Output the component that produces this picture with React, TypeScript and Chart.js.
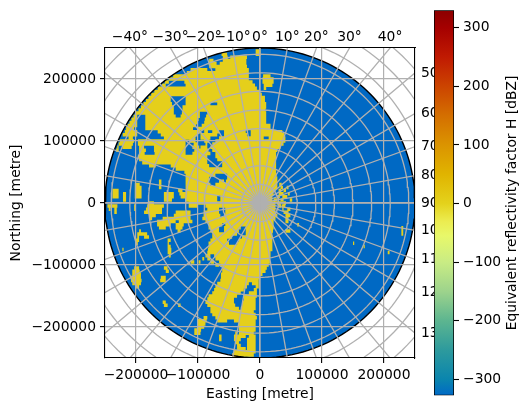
import React, { useEffect, useRef } from "react";
import { Chart, registerables } from "chart.js";

Chart.register(...registerables);

const FONT = "'DejaVu Sans'";
const FS = 13.89;
const GRID = "#b0b0b0";

const xyTicks = [-200000, -100000, 0, 100000, 200000];
const topAzimuths = [-40, -30, -20, -10, 0, 10, 20, 30, 40];
const rightAzimuths = [50, 60, 70, 80, 90, 100, 110, 120, 130];
const rayAzimuths = [0, 10, 20, 30, 40, 50, 60, 70, 80, 90, 100, 110, 120, 130, 140, 150, 160, 170];
const ringRadiiKm = [30, 60, 90, 120, 150, 180, 210, 240, 270, 300, 330, 360];
const rangeKm = 250;
const colorbarTicks = [-300, -200, -100, 0, 100, 200, 300];
const colorbarMin = -327.3;
const colorbarMax = 329.7;
const colorbarStops: [number, string][] = [
  [329.7, "#8b0000"], [300, "#a50000"], [250, "#c01a02"], [200, "#cc4400"], [150, "#d46f00"],
  [100, "#db9400"], [50, "#e0b400"], [0, "#e4d21c"], [-30, "#ecec50"], [-55, "#e8f86a"],
  [-100, "#c9ec84"], [-150, "#9dd38c"], [-200, "#5cb590"], [-250, "#2d9a9d"], [-300, "#0a85ae"],
  [-327.3, "#0069c6"],
];

// Echo runs per 5 km row, in km: [y, x0, x1, x0, x1, ...]
const echoRows: number[][] = [
  [245, -7, 1],
  [240, -62, -53, -7, 1],
  [235, -60, -52, -48, -21],
  [230, -82, -75, -60, -22],
  [225, -83, -70, -65, -22],
  [220, -82, -21],
  [215, -112, -85, -72, -18],
  [210, -118, -18],
  [205, -150, -18, 5, 17],
  [200, -152, -18, 4, 22],
  [195, -158, -147, -122, -12, 4, 22],
  [190, -158, -152, -120, -8, 6, 20],
  [185, -165, -5, 6, 10],
  [180, -172, 0],
  [175, -176, 3],
  [170, -180, -144, -120, 8],
  [165, -184, -144, -120, 8],
  [160, -188, -142, -120, -80, -69, 10],
  [155, -192, -139, -125, 10],
  [150, -196, -139, -125, 9],
  [145, -200, -139, -126, -97, -85, 10],
  [140, -204, -198, -185, -136, -128, -97, -87, 10],
  [135, -208, -198, -185, -99, -89, 10],
  [130, -212, -198, -185, -100, -90, 10],
  [125, -215, -198, -185, -103, -94, 17],
  [120, -216, -203, -185, -108, -100, 17],
  [115, -218, -198, -165, -96, -90, -84, -77, -66, -58, -23, -15, 36],
  [110, -222, -198, -160, -101, -96, -69, -58, -21, -15, 39],
  [105, -212, -205, -155, -104, -96, -80, -66, 6, 14, 41],
  [100, -227, -203, -197, -120, -114, -104, -90, -82, -72, 41],
  [95, -228, -205, -197, -120, -107, -101, -88, -85, -77, 38],
  [90, -232, -228, -222, -207, -195, -187, -171, -120, -109, -98, -96, -85, -80, 33],
  [85, -232, -228, -195, -184, -171, -120, -106, -83, -77, 28],
  [80, -195, -186, -170, -120, -109, -80, -72, 26],
  [75, -197, -85, -72, 26],
  [70, -195, -85, -69, 26],
  [65, -190, -85, -61, 26],
  [60, -179, -168, -144, -82, -61, 26],
  [55, -136, 26],
  [50, -122, 26],
  [45, -120, -72, -53, 27],
  [40, -120, -82, -53, 28],
  [35, -163, -159, -120, -82, -66, -58, -55, 28],
  [30, -202, -194, -163, -159, -120, -80, -72, 28, 31, 35],
  [25, -202, -191, -163, -159, -120, 28, 33, 37, 43, 46],
  [20, -238, -228, -202, -191, -132, -125, -120, 25, 30, 34, 38, 42],
  [15, -238, -228, -221, -216, -202, -191, -155, -139, -130, 22, 30, 38, 45, 48],
  [10, -238, -228, -221, -216, -202, -191, -155, -139, -128, -69, -64, 20, 28, 32, 36, 44],
  [5, -221, -216, -155, -142, -120, -69, -64, 20, 22, 28, 33, 38, 48, 52],
  [0, -179, -171, -115, 25, 27, 33, 38, 42],
  [-5, -246, -230, -203, -201, -182, -155, -115, -100, -88, 25, 30, 34, 35, 41],
  [-10, -244, -241, -235, -231, -203, -201, -184, -158, -85, -66, -56, 25, 36, 38, 44, 49],
  [-15, -235, -231, -187, -158, -136, -112, -91, -66, -56, 25, 38, 46],
  [-20, -179, -168, -139, -112, -91, -64, -58, 28, 41, 49],
  [-25, -179, -174, -157, -112, -93, 25, 41, 46],
  [-30, -166, -136, -131, -109, -88, 22, 41, 46],
  [-35, -166, -144, -136, -123, -83, -61, -56, 22, 60, 63],
  [-40, -163, -152, -136, -125, -83, -66, -58, -31, -23, 22, 228, 231],
  [-45, -195, -192, -133, -128, -80, -66, -58, -34, -23, 21, 41, 49, 228, 231],
  [-50, -198, -182, -77, -37, -23, 20, 228, 231],
  [-55, -198, -195, -187, -179, -77, -45, -29, 20],
  [-60, -201, -195, -149, -144, -80, -53, -34, 20],
  [-65, -201, -197, -149, -147, -83, -50, -37, 20, 150, 152],
  [-70, -149, -144, -83, 20, 167, 169],
  [-75, -222, -220, -149, -143, -84, 20],
  [-80, -149, -143, -85, 17, 206, 209],
  [-85, -147, -144, -88, -80, -74, 17],
  [-90, -93, -90, -85, -80, -72, 16],
  [-95, -112, -106, -99, -96, -80, -74, -66, 16],
  [-100, -72, -66, -64, 14],
  [-105, -203, -195, -155, -149, -61, 11],
  [-110, -206, -194, -152, -147, -61, 9],
  [-115, -206, -192, -63, 4],
  [-120, -209, -192, -160, -152, -63, -1],
  [-125, -208, -191, -161, -152, -64, -2],
  [-130, -206, -192, -69, -18, -13, -2],
  [-135, -201, -195, -72, -21, -7, -2],
  [-140, -74, -26, -10, -5],
  [-145, -77, -31, -18, -5],
  [-150, -83, -37, -26, -5],
  [-155, -85, -42, -26, -7],
  [-160, -157, -152, -88, -42, -29, -7],
  [-165, -155, -149, -132, -128, -85, -40, -29, -7],
  [-170, -80, -34, -31, -7],
  [-175, -80, -10],
  [-180, -77, -7],
  [-185, -91, -85, -72, -5],
  [-190, -100, -86, -69, -53, -42, -7],
  [-195, -101, -88, -34, -7],
  [-200, -101, -90, -34, -7],
  [-205, -106, -95, -34, -7],
  [-210, -106, -96, -40, -37, -34, -10],
  [-215, -66, -62, -42, -23, -18, -7],
  [-220, -66, -62, -42, -31, -21, -7],
  [-225, -40, -34, -21, -7],
  [-230, -37, -31, -21, -7],
  [-235, -37, -23, -21, -7],
  [-240, -42, -7],
  [-245, -45, -10],
];

type Pt = { x: number; y: number };
const GAP: Pt = { x: NaN, y: NaN };
const KM = 1000;

function echoPoints(): Pt[] {
  const out: Pt[] = [];
  for (const row of echoRows) {
    const y = row[0];
    const edge = Math.sqrt(Math.max(0, rangeKm * rangeKm - y * y)) - 3;
    for (let i = 1; i < row.length; i += 2) {
      const a = Math.max(row[i], -edge);
      const b = Math.min(row[i + 1], edge);
      if (a < b) out.push({ x: a * KM, y: y * KM }, { x: b * KM, y: y * KM }, GAP);
    }
  }
  return out;
}
function circle(rKm: number): Pt[] {
  const pts: Pt[] = [];
  for (let a = 0; a <= 360; a += 2) {
    const t = (a * Math.PI) / 180;
    pts.push({ x: rKm * KM * Math.cos(t), y: rKm * KM * Math.sin(t) });
  }
  return pts;
}
function rayPoints(): Pt[] {
  const out: Pt[] = [];
  const R = 450 * KM;
  for (const az of rayAzimuths) {
    const t = (az * Math.PI) / 180;
    out.push({ x: -R * Math.sin(t), y: -R * Math.cos(t) }, { x: R * Math.sin(t), y: R * Math.cos(t) }, GAP);
  }
  return out;
}
function ringPoints(): Pt[] {
  const out: Pt[] = [];
  for (const r of ringRadiiKm) out.push(...circle(r), GAP);
  return out;
}
const minus = (s: string) => s.replace("-", "\u2212");
const limit = rangeKm * KM;

export default function App() {
  const mainRef = useRef<HTMLCanvasElement>(null);
  const barRef = useRef<HTMLCanvasElement>(null);

  useEffect(() => {
    const line = (data: Pt[], color: string, width: number, extra: object = {}) => ({
      data,
      showLine: true,
      borderColor: color,
      backgroundColor: color,
      borderWidth: width,
      pointRadius: 0,
      spanGaps: false,
      tension: 0,
      borderCapStyle: "butt",
      ...extra,
    });
    const tickFont = { family: FONT, size: FS };
    const titleFont = { family: FONT, size: FS };
    const main = new Chart(mainRef.current!, {
      type: "scatter",
      data: {
        datasets: [
          line(rayPoints(), GRID, 1.3),
          line(ringPoints(), GRID, 1.3),
          line(circle(rangeKm), "#000000", 1.4),
          line(echoPoints(), "#e5cf1b", 3.5),
          line(circle(rangeKm), "#0069c4", 0, { fill: "shape" }),
        ] as any,
      },
      options: {
        animation: false,
        responsive: false,
        layout: { padding: 0 },
        plugins: { legend: { display: false }, tooltip: { enabled: false } },
        scales: {
          x: {
            type: "linear",
            position: "bottom",
            min: -limit,
            max: limit,
            afterBuildTicks: (s: any) => { s.ticks = xyTicks.map((value) => ({ value })); },
            afterFit: (s: any) => { s.height = 52; },
            grid: { color: GRID, lineWidth: 1.2, z: 1, tickColor: "#000", tickLength: 5, tickWidth: 1.1 },
            border: { color: "#000", width: 1.1, z: 2 },
            ticks: { font: tickFont, color: "#000", padding: 4, maxRotation: 0, autoSkip: false, callback: (v: any) => minus(String(v)) },
            title: { display: true, text: "Easting [metre]", font: titleFont, color: "#000", padding: 7.5 },
          },
          x2: {
            type: "linear",
            position: "top",
            min: -limit,
            max: limit,
            afterBuildTicks: (s: any) => {
              s.ticks = topAzimuths.map((az) => ({ value: limit * Math.tan((az * Math.PI) / 180) }));
            },
            afterTickToLabelConversion: (s: any) => {
              s.ticks.forEach((t: any, i: number) => { t.label = minus(`${topAzimuths[i]}\u00b0`); });
            },
            afterFit: (s: any) => { s.height = 48; },
            grid: { display: false, drawTicks: false },
            border: { color: "#000", width: 1.1, z: 2 },
            ticks: { font: tickFont, color: "#000", padding: 2, maxRotation: 0, autoSkip: false },
          },
          y: {
            type: "linear",
            position: "left",
            min: -limit,
            max: limit,
            afterBuildTicks: (s: any) => { s.ticks = xyTicks.map((value) => ({ value })); },
            afterFit: (s: any) => { s.width = 105; },
            grid: { color: GRID, lineWidth: 1.2, z: 1, tickColor: "#000", tickLength: 5, tickWidth: 1.1 },
            border: { color: "#000", width: 1.1, z: 2 },
            ticks: { font: tickFont, color: "#000", padding: 4, autoSkip: false, callback: (v: any) => minus(String(v)) },
            title: { display: true, text: "Northing [metre]", font: titleFont, color: "#000", padding: 8.5 },
          },
          y2: {
            type: "linear",
            position: "right",
            min: -limit,
            max: limit,
            afterBuildTicks: (s: any) => {
              s.ticks = rightAzimuths.map((az) => ({ value: limit / Math.tan((az * Math.PI) / 180) }));
            },
            afterTickToLabelConversion: (s: any) => {
              s.ticks.forEach((t: any, i: number) => { t.label = String(rightAzimuths[i]); });
            },
            afterFit: (s: any) => { s.width = 115; },
            grid: { display: false, drawTicks: false },
            border: { color: "#000", width: 1.1, z: 2 },
            ticks: { font: tickFont, color: "#000", padding: 6, autoSkip: false },
          },
        },
      } as any,
    });

    const bar = new Chart(barRef.current!, {
      type: "bar",
      data: {
        labels: ["H"],
        datasets: [
          {
            data: [[colorbarMin, colorbarMax]],
            borderColor: "#000",
            borderWidth: 1.1,
            borderSkipped: false,
            barPercentage: 1,
            categoryPercentage: 1,
            backgroundColor: (ctx: any) => {
              const area = ctx.chart.chartArea;
              if (!area) return "#e4d21c";
              const g = ctx.chart.ctx.createLinearGradient(0, area.top, 0, area.bottom);
              colorbarStops.forEach(([v, c]) => g.addColorStop((colorbarMax - v) / (colorbarMax - colorbarMin), c));
              return g;
            },
          },
        ] as any,
      },
      options: {
        animation: false,
        responsive: false,
        layout: { padding: { top: 4.4, bottom: 12.5, left: 4 } },
        plugins: { legend: { display: false }, tooltip: { enabled: false } },
        scales: {
          x: { display: false },
          y: {
            type: "linear",
            position: "right",
            min: colorbarMin,
            max: colorbarMax,
            afterBuildTicks: (s: any) => { s.ticks = colorbarTicks.map((value) => ({ value })); },
            afterFit: (s: any) => { s.width = 76; },
            grid: { drawOnChartArea: false, tickColor: "#000", tickLength: 5, tickWidth: 1.1 },
            border: { display: false },
            ticks: { font: tickFont, color: "#000", padding: 4, autoSkip: false, callback: (v: any) => minus(String(v)) },
          },
        },
      } as any,
      plugins: [
        {
          id: "barTitle",
          afterDraw(c: any) {
            const ctx = c.ctx;
            ctx.save();
            ctx.translate(82, (c.chartArea.top + c.chartArea.bottom) / 2);
            ctx.rotate(-Math.PI / 2);
            ctx.font = `${FS}px ${FONT}`;
            ctx.fillStyle = "#000";
            ctx.textAlign = "center";
            ctx.textBaseline = "middle";
            ctx.fillText("Equivalent reflectivity factor H [dBZ]", 0, 0);
            ctx.restore();
          },
        },
      ],
    });
    return () => {
      main.destroy();
      bar.destroy();
    };
  }, []);

  return (
    <div style={{ position: "fixed", left: 0, top: 0, width: 530, height: 410, background: "#fff", overflow: "hidden" }}>
      <canvas ref={mainRef} width={530} height={410} style={{ position: "absolute", left: 0, top: 0 }} />
      <canvas ref={barRef} width={100} height={410} style={{ position: "absolute", left: 430, top: -2 }} />
    </div>
  );
}
